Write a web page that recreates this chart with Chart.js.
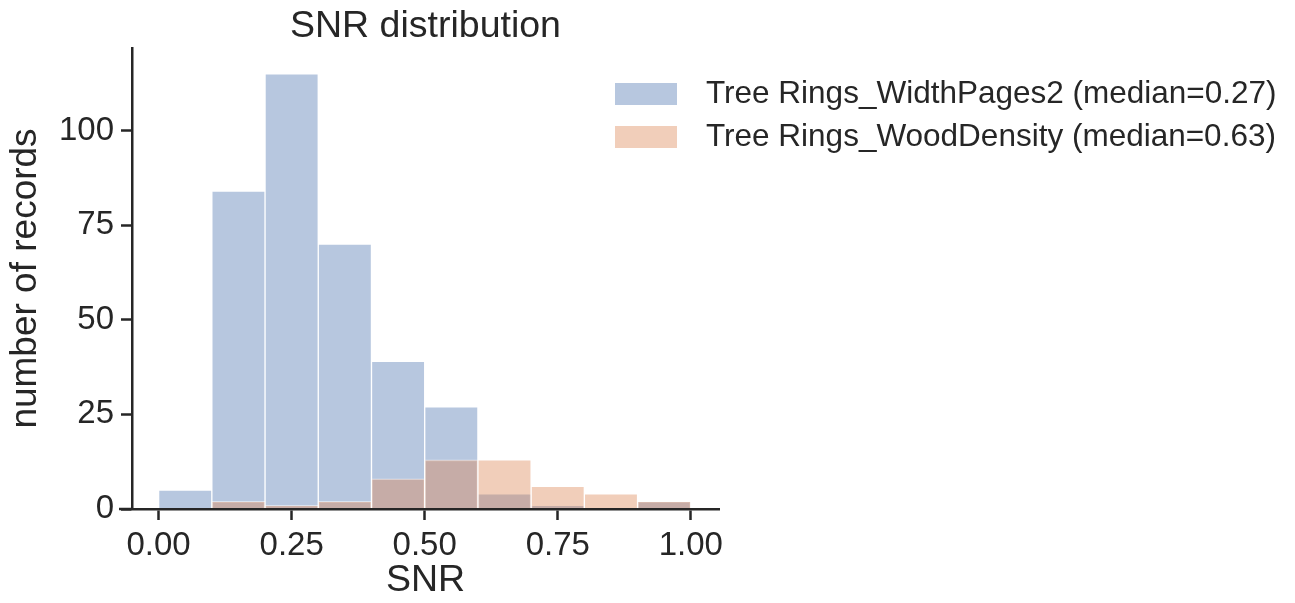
<!DOCTYPE html>
<html><head><meta charset="utf-8">
<script src="https://cdn.jsdelivr.net/npm/chart.js@4.4.1/dist/chart.umd.min.js"></script>
<style>html,body{margin:0;padding:0;background:#fff;} #wrap{width:1295px;height:603px;position:relative;}</style>
</head><body><div id="wrap"><canvas id="c" width="1295" height="603"></canvas></div>
<script>
const binCenters = [0.05, 0.15, 0.25, 0.35, 0.45, 0.55, 0.65, 0.75, 0.85, 0.95];
const widthPagesCounts = [5, 84, 115, 70, 39, 27, 4, 1, 0, 2];
const woodDensityCounts = [0, 2, 1, 2, 8, 13, 13, 6, 4, 2];
const seriesLabels = ['Tree Rings_WidthPages2 (median=0.27)', 'Tree Rings_WoodDensity (median=0.63)'];
const xTickValues = [0, 0.25, 0.5, 0.75, 1.0];
const xTickLabels = ['0.00', '0.25', '0.50', '0.75', '1.00'];
const yTickValues = [0, 25, 50, 75, 100];
const yTickLabels = ['0', '25', '50', '75', '100'];

const FONT = "'Liberation Sans', Arial, sans-serif";
const INK = '#262626';
const BLUE = 'rgba(76,114,176,0.4)';
const ORANGE = 'rgba(221,132,82,0.4)';

const legendPlugin = {
  id: 'sideLegend',
  afterDraw(chart) {
    const ctx = chart.ctx;
    const ca = chart.chartArea;
    ctx.save();
    // x-axis line extension to the left of the y spine
    ctx.strokeStyle = INK; ctx.lineWidth = 2.5;
    ctx.beginPath(); ctx.moveTo(ca.left - 13, ca.bottom); ctx.lineTo(ca.left, ca.bottom); ctx.stroke();
    chart.data.datasets.forEach((ds, i) => {
      const cy = 94 + i * 43;
      ctx.fillStyle = ds.backgroundColor;
      ctx.fillRect(615, cy - 11, 62, 22);
      ctx.fillStyle = INK;
      ctx.font = '31.5px ' + FONT;
      ctx.textBaseline = 'middle';
      ctx.textAlign = 'left';
      ctx.fillText(ds.label, 706, cy);
    });
    ctx.restore();
  }
};

new Chart(document.getElementById('c'), {
  type: 'bar',
  data: {
    datasets: [
      { label: seriesLabels[0], data: binCenters.map((x, i) => ({ x, y: widthPagesCounts[i] })),
        backgroundColor: BLUE, borderColor: 'rgba(255,255,255,0.5)', borderWidth: 1,
        barPercentage: 1, categoryPercentage: 1, grouped: false, order: 2 },
      { label: seriesLabels[1], data: binCenters.map((x, i) => ({ x, y: woodDensityCounts[i] })),
        backgroundColor: ORANGE, borderColor: 'rgba(255,255,255,0.5)', borderWidth: 1,
        barPercentage: 1, categoryPercentage: 1, grouped: false, order: 1 }
    ]
  },
  options: {
    responsive: false,
    animation: false,
    devicePixelRatio: 1,
    layout: { padding: { left: 0, right: 576, top: 0, bottom: 0 } },
    plugins: {
      legend: { display: false },
      tooltip: { enabled: false },
      title: { display: true, text: 'SNR distribution', fullSize: false, color: INK,
        font: { family: FONT, size: 37.5, weight: 'normal', lineHeight: 1.1 },
        padding: { top: 6.4, bottom: 0.35 } }
    },
    scales: {
      x: {
        type: 'linear', min: -0.05, max: 1.053, offset: false,
        afterFit(s) { s.height = 94; },
        afterBuildTicks(s) { s.ticks = xTickValues.map(v => ({ value: v })); },
        grid: { display: true, offset: false, drawOnChartArea: false, drawTicks: true, tickLength: 11, tickWidth: 2.5, tickColor: INK, z: 1 },
        border: { display: true, color: INK, width: 2.5, z: 1 },
        ticks: { color: INK, padding: 6, maxRotation: 0, autoSkip: false,
          font: { family: FONT, size: 33 },
          callback: (v) => { const k = xTickValues.indexOf(v); return k >= 0 ? xTickLabels[k] : ''; } },
        title: { display: true, text: 'SNR', color: INK, font: { family: FONT, size: 37.5, lineHeight: 1.2 }, padding: { top: 0, bottom: 0 } }
      },
      y: {
        min: 0, max: 121.8,
        afterFit(s) { s.width = 132; },
        afterBuildTicks(s) { s.ticks = yTickValues.map(v => ({ value: v })); },
        grid: { display: true, offset: false, drawOnChartArea: false, drawTicks: true, tickLength: 11, tickWidth: 2.5, tickColor: INK, z: 1 },
        border: { display: true, color: INK, width: 2.5, z: 1 },
        ticks: { color: INK, padding: 7, autoSkip: false,
          font: { family: FONT, size: 33 },
          callback: (v) => { const k = yTickValues.indexOf(v); return k >= 0 ? yTickLabels[k] : ''; } },
        title: { display: true, text: 'number of records', color: INK, font: { family: FONT, size: 37, lineHeight: 1.2 }, padding: { top: 3.5, bottom: 0 } }
      }
    }
  },
  plugins: [legendPlugin]
});
</script></body></html>
